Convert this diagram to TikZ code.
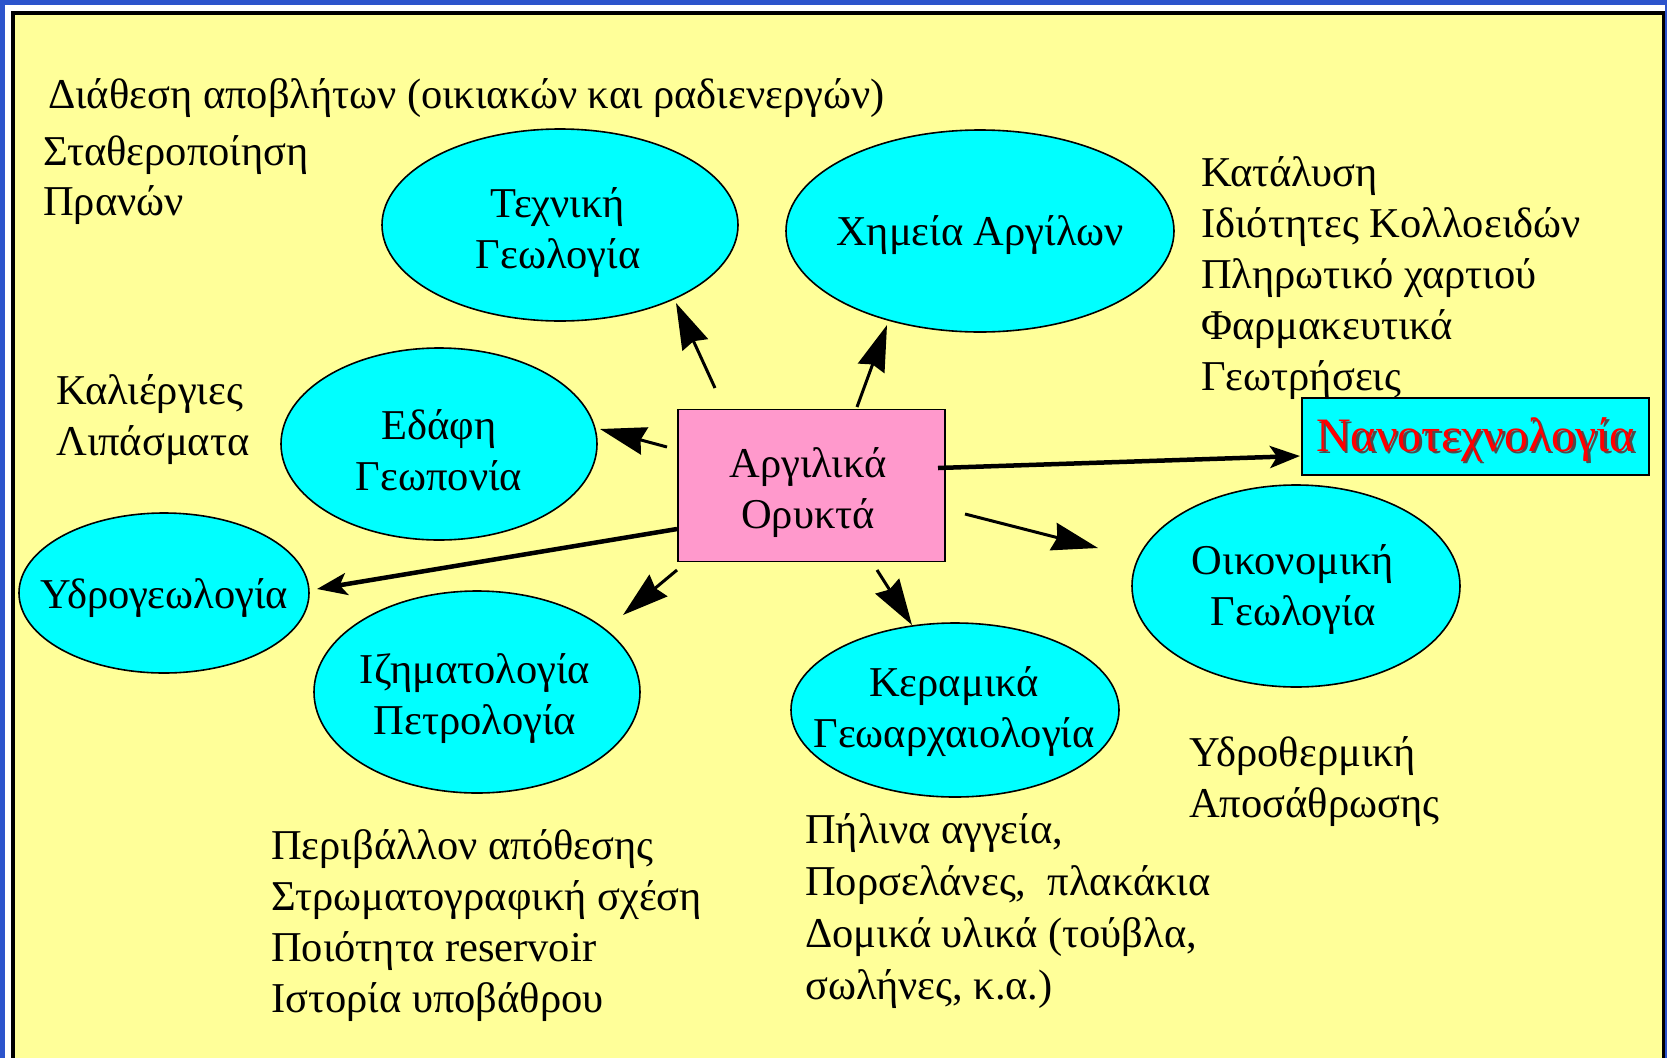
\documentclass[tikz,border=0pt]{standalone}
\usepackage{fontspec}
\setmainfont{Liberation Serif}
\usetikzlibrary{shapes.geometric,arrows.meta}
\definecolor{bgyellow}{RGB}{255,255,153}
\definecolor{bblue}{RGB}{44,84,204}
\definecolor{ecyan}{RGB}{0,255,255}
\definecolor{rpink}{RGB}{255,153,204}
\newcommand{\fsmain}{\fontsize{42.5}{51}\selectfont}
\newcommand{\fsnano}{\fontsize{48}{54}\selectfont}
\begin{document}
\begin{tikzpicture}[x=1pt,y=-1pt,
  blob/.style={ellipse, draw=black, line width=1.6pt, fill=ecyan, inner sep=0pt},
  etxt/.style={align=center, inner sep=0pt, font=\fsmain},
  txt/.style={anchor=base west, inner sep=0pt, font=\fsmain},
  thinarr/.style={line width=3pt, -{Stealth[length=46pt,width=28pt,inset=4pt]}},
  thickarr/.style={line width=4.5pt, -{Stealth[length=30pt,width=22pt,inset=7pt]}}]
\useasboundingbox (0,0) rectangle (1667,1058);
% frame
\fill[bblue] (0,0) rectangle (1667,1058);
\fill[white] (5,5) rectangle (1665,1058);
\fill[black] (11,11) rectangle (1665,1058);
\fill[bgyellow] (15,15) rectangle (1662,1058);

% ellipses
\node[blob, minimum width=356pt, minimum height=192pt] (tech) at (560,225) {};
\node[blob, minimum width=388pt, minimum height=202pt] (chem) at (980,231) {};
\node[blob, minimum width=316pt, minimum height=192pt] (soil) at (439,444) {};
\node[blob, minimum width=290pt, minimum height=160pt] (hydro) at (164,593) {};
\node[blob, minimum width=326pt, minimum height=202pt] (sed) at (477,692) {};
\node[blob, minimum width=328pt, minimum height=174pt] (cer) at (955,710) {};
\node[blob, minimum width=328pt, minimum height=202pt] (econ) at (1296,586) {};

\node[etxt] (techT) at (558,233) {Τεχνική\\Γεωλογία};
\node[etxt] (chemT) at (980,235.5) {Χημεία Αργίλων};
\node[etxt] (soilT) at (439,450) {Εδάφη\\Γεωπονία};
\node[etxt] (hydroT) at (164,598) {Υδρογεωλογία};
\node[etxt] (sedT) at (475,699) {Ιζηματολογία\\Πετρολογία};
\node[etxt] (cerT) at (954,712) {Κεραμικά\\Γεωαρχαιολογία};
\node[etxt] (econT) at (1293,590) {Οικονομική\\Γεωλογία};

% centre box
\node[draw=black, line width=1.6pt, fill=rpink, minimum width=267pt, minimum height=152pt, inner sep=0pt] (center) at (811.5,485.5) {};
\node[etxt] (centerT) at (808,493) {Αργιλικά\\Ορυκτά};

% nano box
\node[draw=black, line width=1.6pt, fill=ecyan, minimum width=347pt, minimum height=77pt, inner sep=0pt] (nano) at (1475.5,436.5) {};
\node[font=\fsnano, text=black!70, inner sep=0pt] (nanoshadow) at ([xshift=2.5pt,yshift=-5.5pt]nano.center) {Νανοτεχνολογία};
\node[font=\fsnano, text=red, inner sep=0pt] (nanotext) at ([yshift=-3pt]nano.center) {Νανοτεχνολογία};

% arrow end points
\coordinate (a1s) at (715,388); \coordinate (a1e) at (676,303);
\coordinate (a2s) at (857,407); \coordinate (a2e) at (887,325);
\coordinate (a3s) at (667,447); \coordinate (a3e) at (600,429);
\coordinate (a4s) at (677,570); \coordinate (a4e) at (623,615);
\coordinate (a5s) at (877,570); \coordinate (a5e) at (912,625);
\coordinate (a6s) at (965,514); \coordinate (a6e) at (1098,548);
\coordinate (hs) at (677,529); \coordinate (he) at (317,589);
\coordinate (ns) at (938,468); \coordinate (ne) at (1300,456);

\draw[thinarr] (a1s) -- (a1e);
\draw[thinarr] (a2s) -- (a2e);
\draw[thinarr] (a3s) -- (a3e);
\draw[thinarr] (a4s) -- (a4e);
\draw[thinarr] (a5s) -- (a5e);
\draw[thinarr] (a6s) -- (a6e);
\draw[thickarr] (hs) -- (he);
\draw[thickarr] (ns) -- (ne);

% texts
\node[txt] (t1) at (48,108) {Διάθεση αποβλήτων (οικιακών και ραδιενεργών)};
\node[txt] (t2) at (43,165) {Σταθεροποίηση};
\node[txt] (t3) at (43,215) {Πρανών};

\node[txt] (k1) at (1201,186) {Κατάλυση};
\node[txt] (k2) at (1201,237) {Ιδιότητες Κολλοειδών};
\node[txt] (k3) at (1201,288) {Πληρωτικό χαρτιού};
\node[txt] (k4) at (1201,339) {Φαρμακευτικά};
\node[txt] (k5) at (1201,390) {Γεωτρήσεις};

\node[txt] (c1) at (56,404) {Καλιέργιες};
\node[txt] (c2) at (56,455) {Λιπάσματα};

\node[txt] (p1) at (271,859) {Περιβάλλον απόθεσης};
\node[txt] (p2) at (271,910) {Στρωματογραφική σχέση};
\node[txt] (p3) at (271,961) {Ποιότητα reservoir};
\node[txt] (p4) at (271,1012) {Ιστορία υποβάθρου};

\node[txt] (m1) at (805,843) {Πήλινα αγγεία,};
\node[txt] (m2) at (805,895) {Πορσελάνες,\ \ πλακάκια};
\node[txt] (m3) at (805,947) {Δομικά υλικά (τούβλα,};
\node[txt] (m4) at (805,999) {σωλήνες, κ.α.)};

\node[txt] (y1) at (1189,766) {Υδροθερμική};
\node[txt] (y2) at (1189,817) {Αποσάθρωσης};
\end{tikzpicture}
\end{document}
